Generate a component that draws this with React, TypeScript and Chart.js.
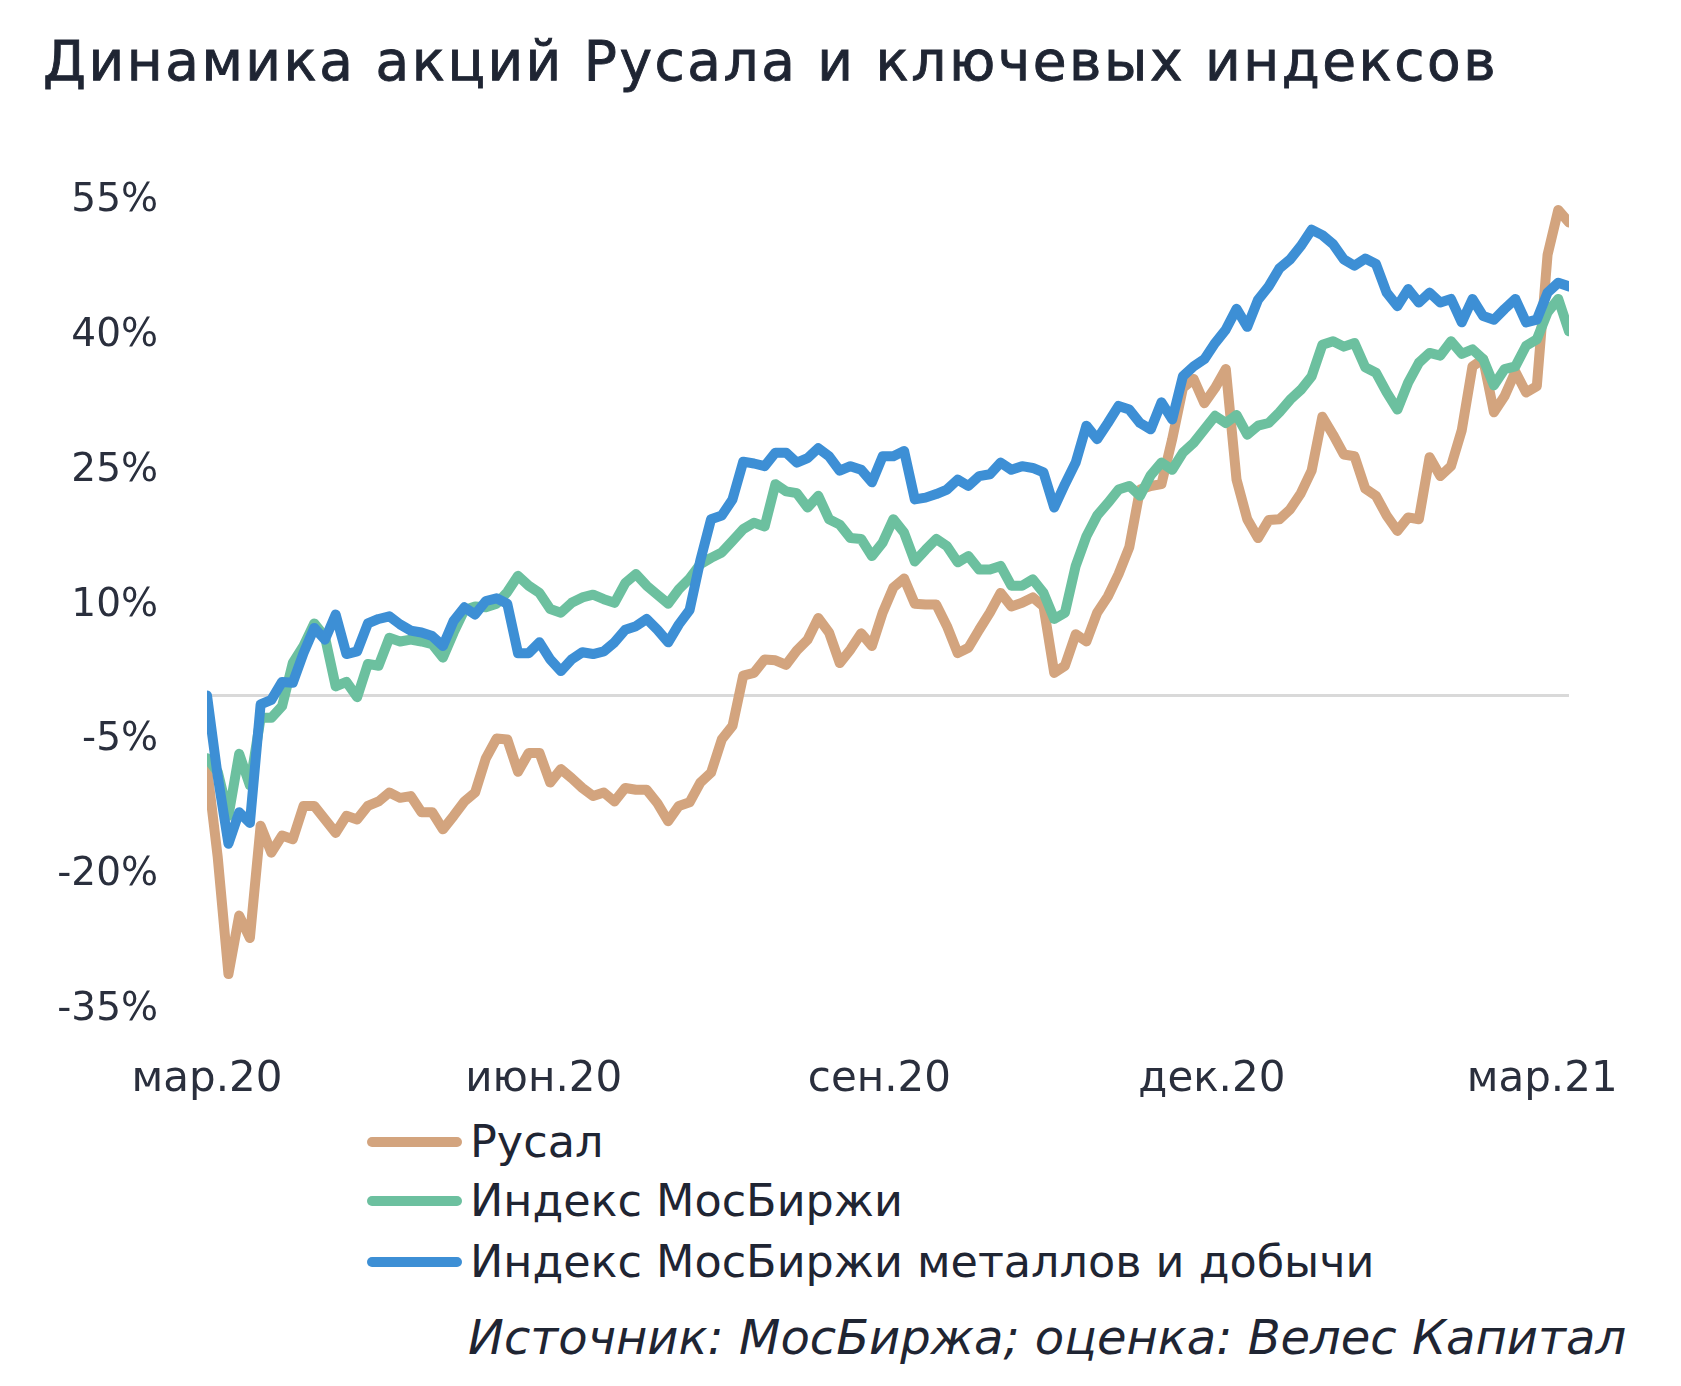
import React, { useEffect, useRef } from 'react';
import { Chart, registerables } from 'chart.js';

Chart.register(...registerables);

// Series values, % change since March 2020 (one point ≈ every 2 trading days)
const rusal: number[] = [
  -8, -18, -31, -24.5, -27, -14.5, -17.5, -15.6, -16, -12.3,
  -12.3, -13.8, -15.3, -13.4, -13.8, -12.3, -11.8, -10.8, -11.4, -11.2,
  -13, -13, -14.9, -13.4, -11.8, -10.8, -7, -4.8, -4.9, -8.5,
  -6.4, -6.4, -9.7, -8.2, -9.2, -10.3, -11.2, -10.8, -11.8, -10.3,
  -10.5, -10.5, -12, -14, -12.3, -11.9, -9.7, -8.6, -4.9, -3.4,
  2.2, 2.5, 4.0, 3.9, 3.4, 5.0, 6.2, 8.6, 7.0, 3.6,
  5.1, 6.9, 5.5, 9.2, 12.0, 13.0, 10.2, 10.1, 10.1, 7.7,
  4.7, 5.3, 7.3, 9.2, 11.4, 9.9, 10.3, 10.9, 9.9, 2.5,
  3.3, 6.8, 6.0, 9.2, 11.0, 13.5, 16.5, 22.9, 23.3, 23.5,
  28.5, 34.2, 35.2, 32.5, 34.2, 36.3, 24, 19.6, 17.5, 19.5,
  19.6, 20.7, 22.5, 25, 31, 29, 26.8, 26.6, 23, 22.2,
  20, 18.3, 19.8, 19.6, 26.5, 24.4, 25.5, 29.5, 36.6, 37.4,
  31.5, 33.3, 36, 33.7, 34.4, 49, 54, 52.6,
];

const moex: number[] = [
  -7, -8.5, -13.4, -6.5, -10, -2.5, -2.5, -1.2, 3.6, 5.5,
  8.0, 6.5, 1, 1.5, -0.2, 3.5, 3.3, 6.4, 6.0, 6.2,
  6.0, 5.7, 4.2, 7.0, 9.5, 9.9, 9.8, 10.2, 11.5, 13.3,
  12.2, 11.4, 9.6, 9.2, 10.3, 10.9, 11.2, 10.7, 10.3, 12.5,
  13.5, 12.2, 11.2, 10.2, 11.8, 13, 14.6, 15.3, 15.9, 17.2,
  18.5, 19.2, 18.8, 23.5, 22.7, 22.5, 20.9, 22.2, 19.6, 19.0,
  17.5, 17.4, 15.5, 17.0, 19.6, 18.1, 14.9, 16.2, 17.4, 16.6,
  14.8, 15.5, 14.0, 14.0, 14.4, 12.2, 12.2, 12.9, 11.4, 8.5,
  9.2, 14.4, 17.7, 20.0, 21.4, 22.9, 23.3, 22.2, 24.5, 25.9,
  25.1, 27.0, 28.1, 29.6, 31.1, 30.3, 31.2, 29.0, 30.0, 30.3,
  31.5, 32.9, 34.0, 35.5, 39.0, 39.4, 38.8, 39.2, 36.5, 35.9,
  33.7, 31.8, 34.8, 37, 38.1, 37.8, 39.4, 38, 38.5, 37.4,
  34.5, 36.3, 36.6, 38.9, 39.6, 42.6, 44.1, 40.5,
];

const moexMetals: number[] = [
  0, -9, -16.5, -13, -14.2, -1, -0.5, 1.5, 1.4, 4.7,
  7.5, 6.2, 9.0, 4.6, 4.9, 8.0, 8.5, 8.8, 7.9, 7.2,
  7.0, 6.6, 5.5, 8.3, 9.8, 9.0, 10.5, 10.8, 10.2, 4.7,
  4.7, 5.9, 4.0, 2.7, 4.0, 4.8, 4.6, 4.9, 5.9, 7.3,
  7.7, 8.5, 7.3, 5.9, 7.9, 9.5, 15, 19.6, 20, 21.8,
  26, 25.8, 25.5, 27, 27, 25.9, 26.4, 27.5, 26.6, 25,
  25.5, 25.1, 23.7, 26.6, 26.6, 27.2, 21.8, 22.0, 22.4, 22.9,
  24.0, 23.3, 24.4, 24.6, 25.9, 25.1, 25.5, 25.3, 24.8, 20.9,
  23.5, 25.9, 30.0, 28.5, 30.3, 32.2, 31.8, 30.3, 29.6, 32.6,
  30.7, 35.5, 36.6, 37.4, 39.2, 40.7, 43, 41, 44, 45.5,
  47.5, 48.5, 50, 51.8, 51.2, 50.2, 48.5, 47.8, 48.6, 48,
  44.8, 43.3, 45.2, 43.7, 44.8, 43.7, 44.1, 41.5, 44.1, 42.2,
  41.8, 43, 44.1, 41.5, 41.8, 44.8, 45.9, 45.5,
];

const seriesNames: string[] = ['Русал', 'Индекс МосБиржи', 'Индекс МосБиржи металлов и добычи'];
const seriesValues: number[][] = [rusal, moex, moexMetals];
const seriesColors: string[] = ['#d3a47e', '#6cc09f', '#3d8fd5'];

const xTickValues: number[] = [0, 31.4, 62.7, 93.7, 124.5];
const xTickLabels: string[] = ['мар.20', 'июн.20', 'сен.20', 'дек.20', 'мар.21'];
const yTickValues: number[] = [-35, -20, -5, 10, 25, 40, 55];

const TITLE = 'Динамика акций Русала и ключевых индексов';
const SOURCE = 'Источник: МосБиржа; оценка: Велес Капитал';

const FONT = '"DejaVu Sans", "Noto Sans", sans-serif';
const TEXT_COLOR = '#2a2f3d';

const zeroLine = {
  id: 'zeroLine',
  beforeDatasetsDraw(chart: any) {
    const { ctx, chartArea, scales } = chart;
    const y = scales.y.getPixelForValue(0);
    ctx.save();
    ctx.strokeStyle = '#d9d9d9';
    ctx.lineWidth = 3;
    ctx.beginPath();
    ctx.moveTo(chartArea.left, y);
    ctx.lineTo(chartArea.right, y);
    ctx.stroke();
    ctx.restore();
  },
};

export default function App() {
  const canvasRef = useRef<HTMLCanvasElement>(null);

  useEffect(() => {
    if (!canvasRef.current) return;
    const datasets = seriesNames.map((name, k) => ({
      label: name,
      data: seriesValues[k].map((v, i) => ({ x: i, y: v })),
      borderColor: seriesColors[k],
      backgroundColor: seriesColors[k],
      borderWidth: 10,
      pointRadius: 0,
      pointHoverRadius: 0,
      tension: 0,
      fill: false,
      borderJoinStyle: 'round' as const,
      borderCapStyle: 'round' as const,
      order: seriesNames.length - 1 - k,
    }));

    const chart = new Chart(canvasRef.current, {
      type: 'line',
      data: { datasets },
      plugins: [zeroLine],
      options: {
        animation: false,
        responsive: false,
        devicePixelRatio: 1,
        layout: { padding: { left: 0, right: 112, top: 201, bottom: 0 } },
        plugins: {
          legend: { display: false },
          tooltip: { enabled: false },
          title: { display: false },
        },
        scales: {
          x: {
            type: 'linear',
            min: 0,
            max: rusal.length - 1,
            grid: { display: false },
            border: { display: false },
            afterFit: (scale: any) => {
              scale.height = 90;
            },
            afterBuildTicks: (scale: any) => {
              scale.ticks = xTickValues.map((v) => ({ value: v }));
            },
            ticks: {
              autoSkip: false,
              maxRotation: 0,
              padding: 37,
              color: TEXT_COLOR,
              font: { family: FONT, size: 42 },
              callback: (_v: any, i: number) => xTickLabels[i],
            },
          },
          y: {
            min: -35,
            max: 55,
            grid: { display: false },
            border: { display: false },
            afterFit: (scale: any) => {
              scale.width = 207;
            },
            afterBuildTicks: (scale: any) => {
              scale.ticks = yTickValues.map((v) => ({ value: v }));
            },
            ticks: {
              padding: 41,
              color: TEXT_COLOR,
              font: { family: FONT, size: 39 },
              callback: (v: any) => `${v}%`,
            },
          },
        },
      },
    });
    return () => chart.destroy();
  }, []);

  const legendTops = [1142, 1201, 1262];

  return (
    <div
      style={{
        position: 'absolute',
        left: 0,
        top: 0,
        width: 1681,
        height: 1386,
        background: '#ffffff',
        overflow: 'hidden',
        fontFamily: FONT,
      }}
    >
      <div
        style={{
          position: 'absolute',
          left: 43,
          top: 26,
          fontSize: 55,
          lineHeight: '70px',
          color: '#1f2533',
          whiteSpace: 'nowrap',
          letterSpacing: '2.5px',
          WebkitTextStroke: '0.9px #1f2533',
        }}
      >
        {TITLE}
      </div>
      <canvas
        ref={canvasRef}
        width={1681}
        height={1100}
        style={{ position: 'absolute', left: 0, top: 0, width: 1681, height: 1100 }}
      />
      {seriesNames.map((name, k) => (
        <div
          key={name}
          style={{
            position: 'absolute',
            left: 367,
            top: legendTops[k] - 30,
            height: 60,
            display: 'flex',
            alignItems: 'center',
            whiteSpace: 'nowrap',
          }}
        >
          <div
            style={{
              width: 95,
              height: 10,
              borderRadius: 5,
              background: seriesColors[k],
              marginRight: 8,
            }}
          />
          <span style={{ fontSize: 44.5, color: '#1f2533', lineHeight: '60px' }}>{name}</span>
        </div>
      ))}
      <div
        style={{
          position: 'absolute',
          left: 468,
          top: 1338 - 31,
          height: 60,
          lineHeight: '60px',
          fontSize: 48,
          fontStyle: 'italic',
          color: '#1f2533',
          whiteSpace: 'nowrap',
        }}
      >
        {SOURCE}
      </div>
    </div>
  );
}
